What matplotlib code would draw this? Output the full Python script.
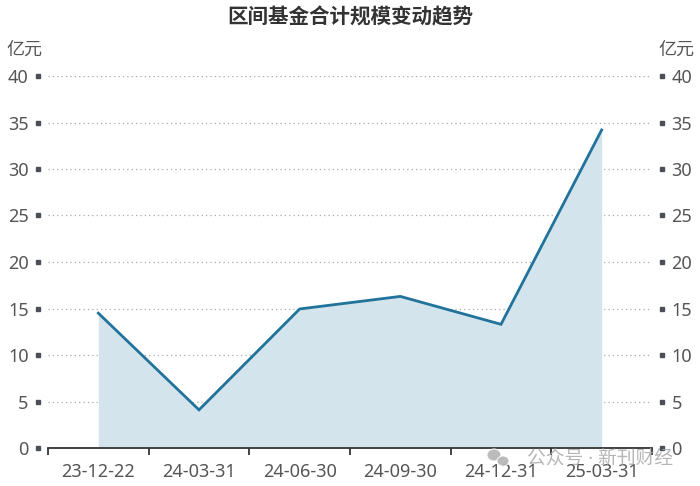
import matplotlib.pyplot as plt
from matplotlib.patches import Ellipse
import numpy as np

plt.rcParams['font.family'] = ['Noto Sans', 'Noto Sans CJK SC', 'DejaVu Sans']

# data
dates = ['23-12-22', '24-03-31', '24-06-30', '24-09-30', '24-12-31', '25-03-31']
scale = [14.5, 4.1, 14.95, 16.3, 13.3, 34.2]
yticks = [0, 5, 10, 15, 20, 25, 30, 35, 40]

line_color = '#21739c'
fill_color = '#d3e4ec'
tick_color = '#555555'

fig = plt.figure(figsize=(7, 4.86), dpi=100)
ax = fig.add_axes([48 / 700, 38 / 486, 604 / 700, 372 / 486])

x = np.arange(len(dates))
ax.fill_between(x, 0, scale, color=fill_color, lw=0, zorder=1)
ax.plot(x, scale, color=line_color, lw=2.0, zorder=3, solid_joinstyle='miter')

ax.set_xlim(-0.5, len(dates) - 0.5)
ax.set_ylim(0, 40)

# horizontal dotted grid
for v in yticks[1:]:
    ax.axhline(v, color='#aaaaaa', lw=0.9, ls=(0, (1, 2.5)), zorder=0)

for s in ['top', 'left', 'right']:
    ax.spines[s].set_visible(False)
ax.spines['bottom'].set_color('#333333')
ax.spines['bottom'].set_linewidth(1.3)

# x axis: labels centered, tick marks at boundaries
ax.set_xticks(x)
ax.set_xticklabels(dates)
ax.set_xticks(np.arange(len(dates) + 1) - 0.5, minor=True)
ax.tick_params(axis='x', which='major', length=0, pad=11, labelsize=13, labelcolor=tick_color)
ax.tick_params(axis='x', which='minor', length=5, width=1.3, color='#333333', direction='out')

# y axes on both sides
ax.set_yticks(yticks)
ax.tick_params(axis='y', length=0, pad=14, labelsize=13, labelcolor=tick_color)
ax2 = ax.twinx()
ax2.set_ylim(ax.get_ylim())
ax2.set_yticks(yticks)
ax2.tick_params(axis='y', length=0, pad=14, labelsize=13, labelcolor=tick_color)
for s in ['top', 'left', 'right', 'bottom']:
    ax2.spines[s].set_visible(False)

# small square tick markers
ax.plot(np.full(len(yticks), -0.016), yticks, 's', ms=3.2, color='#4a4f5a',
        transform=ax.get_yaxis_transform(), clip_on=False)
ax.plot(np.full(len(yticks), 1.016), yticks, 's', ms=3.2, color='#4a4f5a',
        transform=ax.get_yaxis_transform(), clip_on=False)

fig.text(24 / 700, 1 - 50 / 486, '亿元', ha='center', va='center', fontsize=13, color=tick_color)
fig.text(676 / 700, 1 - 50 / 486, '亿元', ha='center', va='center', fontsize=13, color=tick_color)

fig.text(0.5, 1 - 18 / 486, '区间基金合计规模变动趋势', ha='center', va='center',
         fontsize=14.8, fontweight='bold', color='#333333')

# watermark with a rough wechat-like icon
fig.text(600 / 700, 1 - 458 / 486, '公众号 · 新刊财经', ha='center', va='center',
         fontsize=13.5, color='#a8a8a8', alpha=0.85)
for (cx, cy, w, h) in [(494, 455, 14, 12), (503, 461, 12, 10)]:
    fig.patches.append(Ellipse((cx / 700, 1 - cy / 486), w / 700, h / 486,
                               transform=fig.transFigure, color='#b0b0b0', alpha=0.85,
                               ec='white', lw=0.8))

fig.savefig('out.png', dpi=100)
